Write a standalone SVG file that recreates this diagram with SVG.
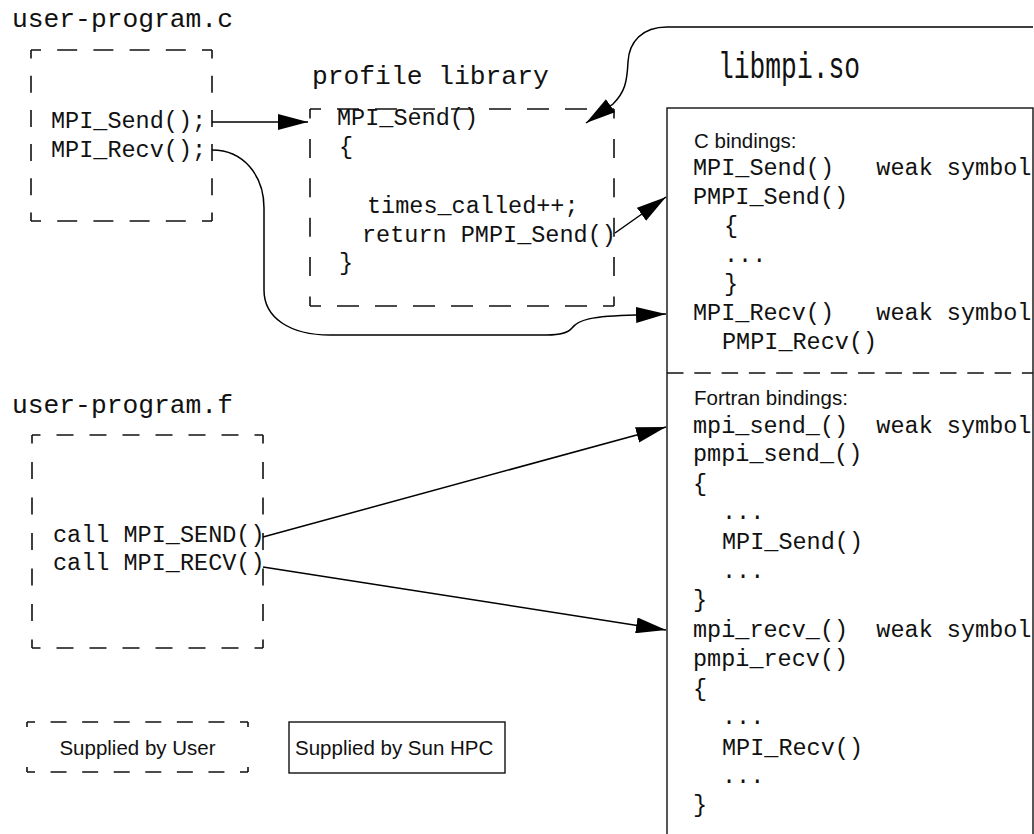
<svg xmlns="http://www.w3.org/2000/svg" width="1034" height="834" viewBox="0 0 1034 834">
  <style>
    .code { font-family: "Liberation Mono", "Courier New", monospace; font-size: 23.5px; fill: #111; }
    .title { font-family: "Liberation Mono", "Courier New", monospace; font-size: 26.3px; fill: #111; }
    .sans { font-family: "Liberation Sans", Arial, sans-serif; font-size: 20.5px; fill: #111; }
    .edge { stroke: #111; stroke-width: 1.6; fill: none; }
    .solid { stroke: #111; stroke-width: 1.4; fill: none; }
    .wire { stroke: #000; stroke-width: 1.5; fill: none; marker-end: url(#head); }
  </style>
  <defs>
    <marker id="head" markerUnits="userSpaceOnUse" markerWidth="30" markerHeight="16" refX="30" refY="8" orient="auto">
      <path d="M0,0 L30,8 L0,16 z" fill="#000"/>
    </marker>
  </defs>
  <rect width="1034" height="834" fill="#fff"/>

  <!-- C user program -->
  <g id="user-program-c">
    <text class="title" x="12" y="27">user-program.c</text>
    <line class="edge" x1="31" y1="50" x2="212" y2="50" stroke-dasharray="20 16.2" stroke-dashoffset="10"/>
    <line class="edge" x1="31" y1="221" x2="212" y2="221" stroke-dasharray="20 16.2" stroke-dashoffset="10"/>
    <line class="edge" x1="31" y1="50" x2="31" y2="221" stroke-dasharray="17 17.2" stroke-dashoffset="8.5"/>
    <line class="edge" x1="212" y1="50" x2="212" y2="221" stroke-dasharray="17 17.2" stroke-dashoffset="8.5"/>
    <text class="code" x="51" y="128">MPI_Send();</text>
    <text class="code" x="51" y="157">MPI_Recv();</text>
  </g>

  <!-- profiling wrapper library -->
  <g id="profile-library">
    <text class="title" x="312" y="84">profile library</text>
    <line class="edge" x1="310" y1="109" x2="614" y2="109" stroke-dasharray="22 16" stroke-dashoffset="11"/>
    <line class="edge" x1="310" y1="306" x2="614" y2="306" stroke-dasharray="22 16" stroke-dashoffset="11"/>
    <line class="edge" x1="310" y1="109" x2="310" y2="306" stroke-dasharray="19 20.4" stroke-dashoffset="9.5"/>
    <line class="edge" x1="614" y1="109" x2="614" y2="306" stroke-dasharray="19 20.4" stroke-dashoffset="9.5"/>
    <text class="code" x="337" y="125">MPI_Send()</text>
    <text class="code" x="339" y="154">{</text>
    <text class="code" x="367" y="213">times_called++;</text>
    <text class="code" x="362" y="242">return PMPI_Send()</text>
    <text class="code" x="339" y="270">}</text>
  </g>

  <!-- MPI shared library -->
  <g id="libmpi">
    <text class="title" transform="translate(718,78) scale(1,1.4)">libmpi.so</text>
    <rect class="solid" x="667" y="108" width="366" height="760"/>
    <text class="sans" x="694" y="148" font-size="21">C bindings:</text>
    <text class="code" x="693" y="175" xml:space="preserve">MPI_Send()   weak symbol</text>
    <text class="code" x="693" y="204">PMPI_Send()</text>
    <text class="code" x="724" y="233">{</text>
    <text class="code" x="724" y="262">...</text>
    <text class="code" x="724" y="291">}</text>
    <text class="code" x="693" y="320" xml:space="preserve">MPI_Recv()   weak symbol</text>
    <text class="code" x="722" y="349">PMPI_Recv()</text>
    <line class="edge" x1="667" y1="373" x2="1033" y2="373" stroke-dasharray="16.5 10.8"/>
    <text class="sans" x="694" y="405" font-size="21">Fortran bindings:</text>
    <text class="code" x="693" y="433" xml:space="preserve">mpi_send_()  weak symbol</text>
    <text class="code" x="693" y="461">pmpi_send_()</text>
    <text class="code" x="693" y="491">{</text>
    <text class="code" x="722" y="519">...</text>
    <text class="code" x="722" y="549">MPI_Send()</text>
    <text class="code" x="722" y="578">...</text>
    <text class="code" x="693" y="607">}</text>
    <text class="code" x="693" y="637" xml:space="preserve">mpi_recv_()  weak symbol</text>
    <text class="code" x="693" y="666">pmpi_recv()</text>
    <text class="code" x="693" y="696">{</text>
    <text class="code" x="722" y="724">...</text>
    <text class="code" x="722" y="755">MPI_Recv()</text>
    <text class="code" x="722" y="783">...</text>
    <text class="code" x="693" y="812">}</text>
  </g>

  <!-- Fortran user program -->
  <g id="user-program-f">
    <text class="title" x="12" y="413">user-program.f</text>
    <line class="edge" x1="32" y1="435" x2="263" y2="435" stroke-dasharray="17 16" stroke-dashoffset="8.5"/>
    <line class="edge" x1="32" y1="648" x2="263" y2="648" stroke-dasharray="17 16" stroke-dashoffset="8.5"/>
    <line class="edge" x1="32" y1="435" x2="32" y2="648" stroke-dasharray="17 18.5" stroke-dashoffset="8.5"/>
    <line class="edge" x1="263" y1="435" x2="263" y2="648" stroke-dasharray="17 18.5" stroke-dashoffset="8.5"/>
    <text class="code" x="53" y="542">call MPI_SEND()</text>
    <text class="code" x="53" y="570">call MPI_RECV()</text>
  </g>

  <!-- legend -->
  <g id="legend-user">
    <line class="edge" x1="27" y1="722" x2="248" y2="722" stroke-dasharray="16 15.57" stroke-dashoffset="8"/>
    <line class="edge" x1="27" y1="772" x2="248" y2="772" stroke-dasharray="16 15.57" stroke-dashoffset="8"/>
    <line class="edge" x1="27" y1="722" x2="27" y2="772" stroke-dasharray="10 40" stroke-dashoffset="5"/>
    <line class="edge" x1="248" y1="722" x2="248" y2="772" stroke-dasharray="10 40" stroke-dashoffset="5"/>
    <text class="sans" x="137.5" y="755" text-anchor="middle">Supplied by User</text>
  </g>
  <g id="legend-sun">
    <rect class="solid" x="289" y="722" width="216" height="51"/>
    <text class="sans" x="295" y="755">Supplied by Sun HPC</text>
  </g>

  <!-- call paths -->
  <g id="connectors">
    <line class="wire" x1="212" y1="122" x2="308" y2="122"/>
    <path class="wire" d="M212,150 C244,150 264,176 264,208 L264,290 C264,318 290,335 330,335 L547,335 C560,335 568,333 572,328 C578,320 590,316 636,315 L666,314"/>
    <line class="wire" x1="615" y1="233" x2="666" y2="197"/>
    <path class="wire" d="M1033,27 L667,27 C642,27 629,42 628,62 C627,82 625,92 613,104 L586,123"/>
    <line class="wire" x1="263" y1="537" x2="666" y2="427"/>
    <line class="wire" x1="263" y1="567" x2="666" y2="630"/>
  </g>
</svg>
